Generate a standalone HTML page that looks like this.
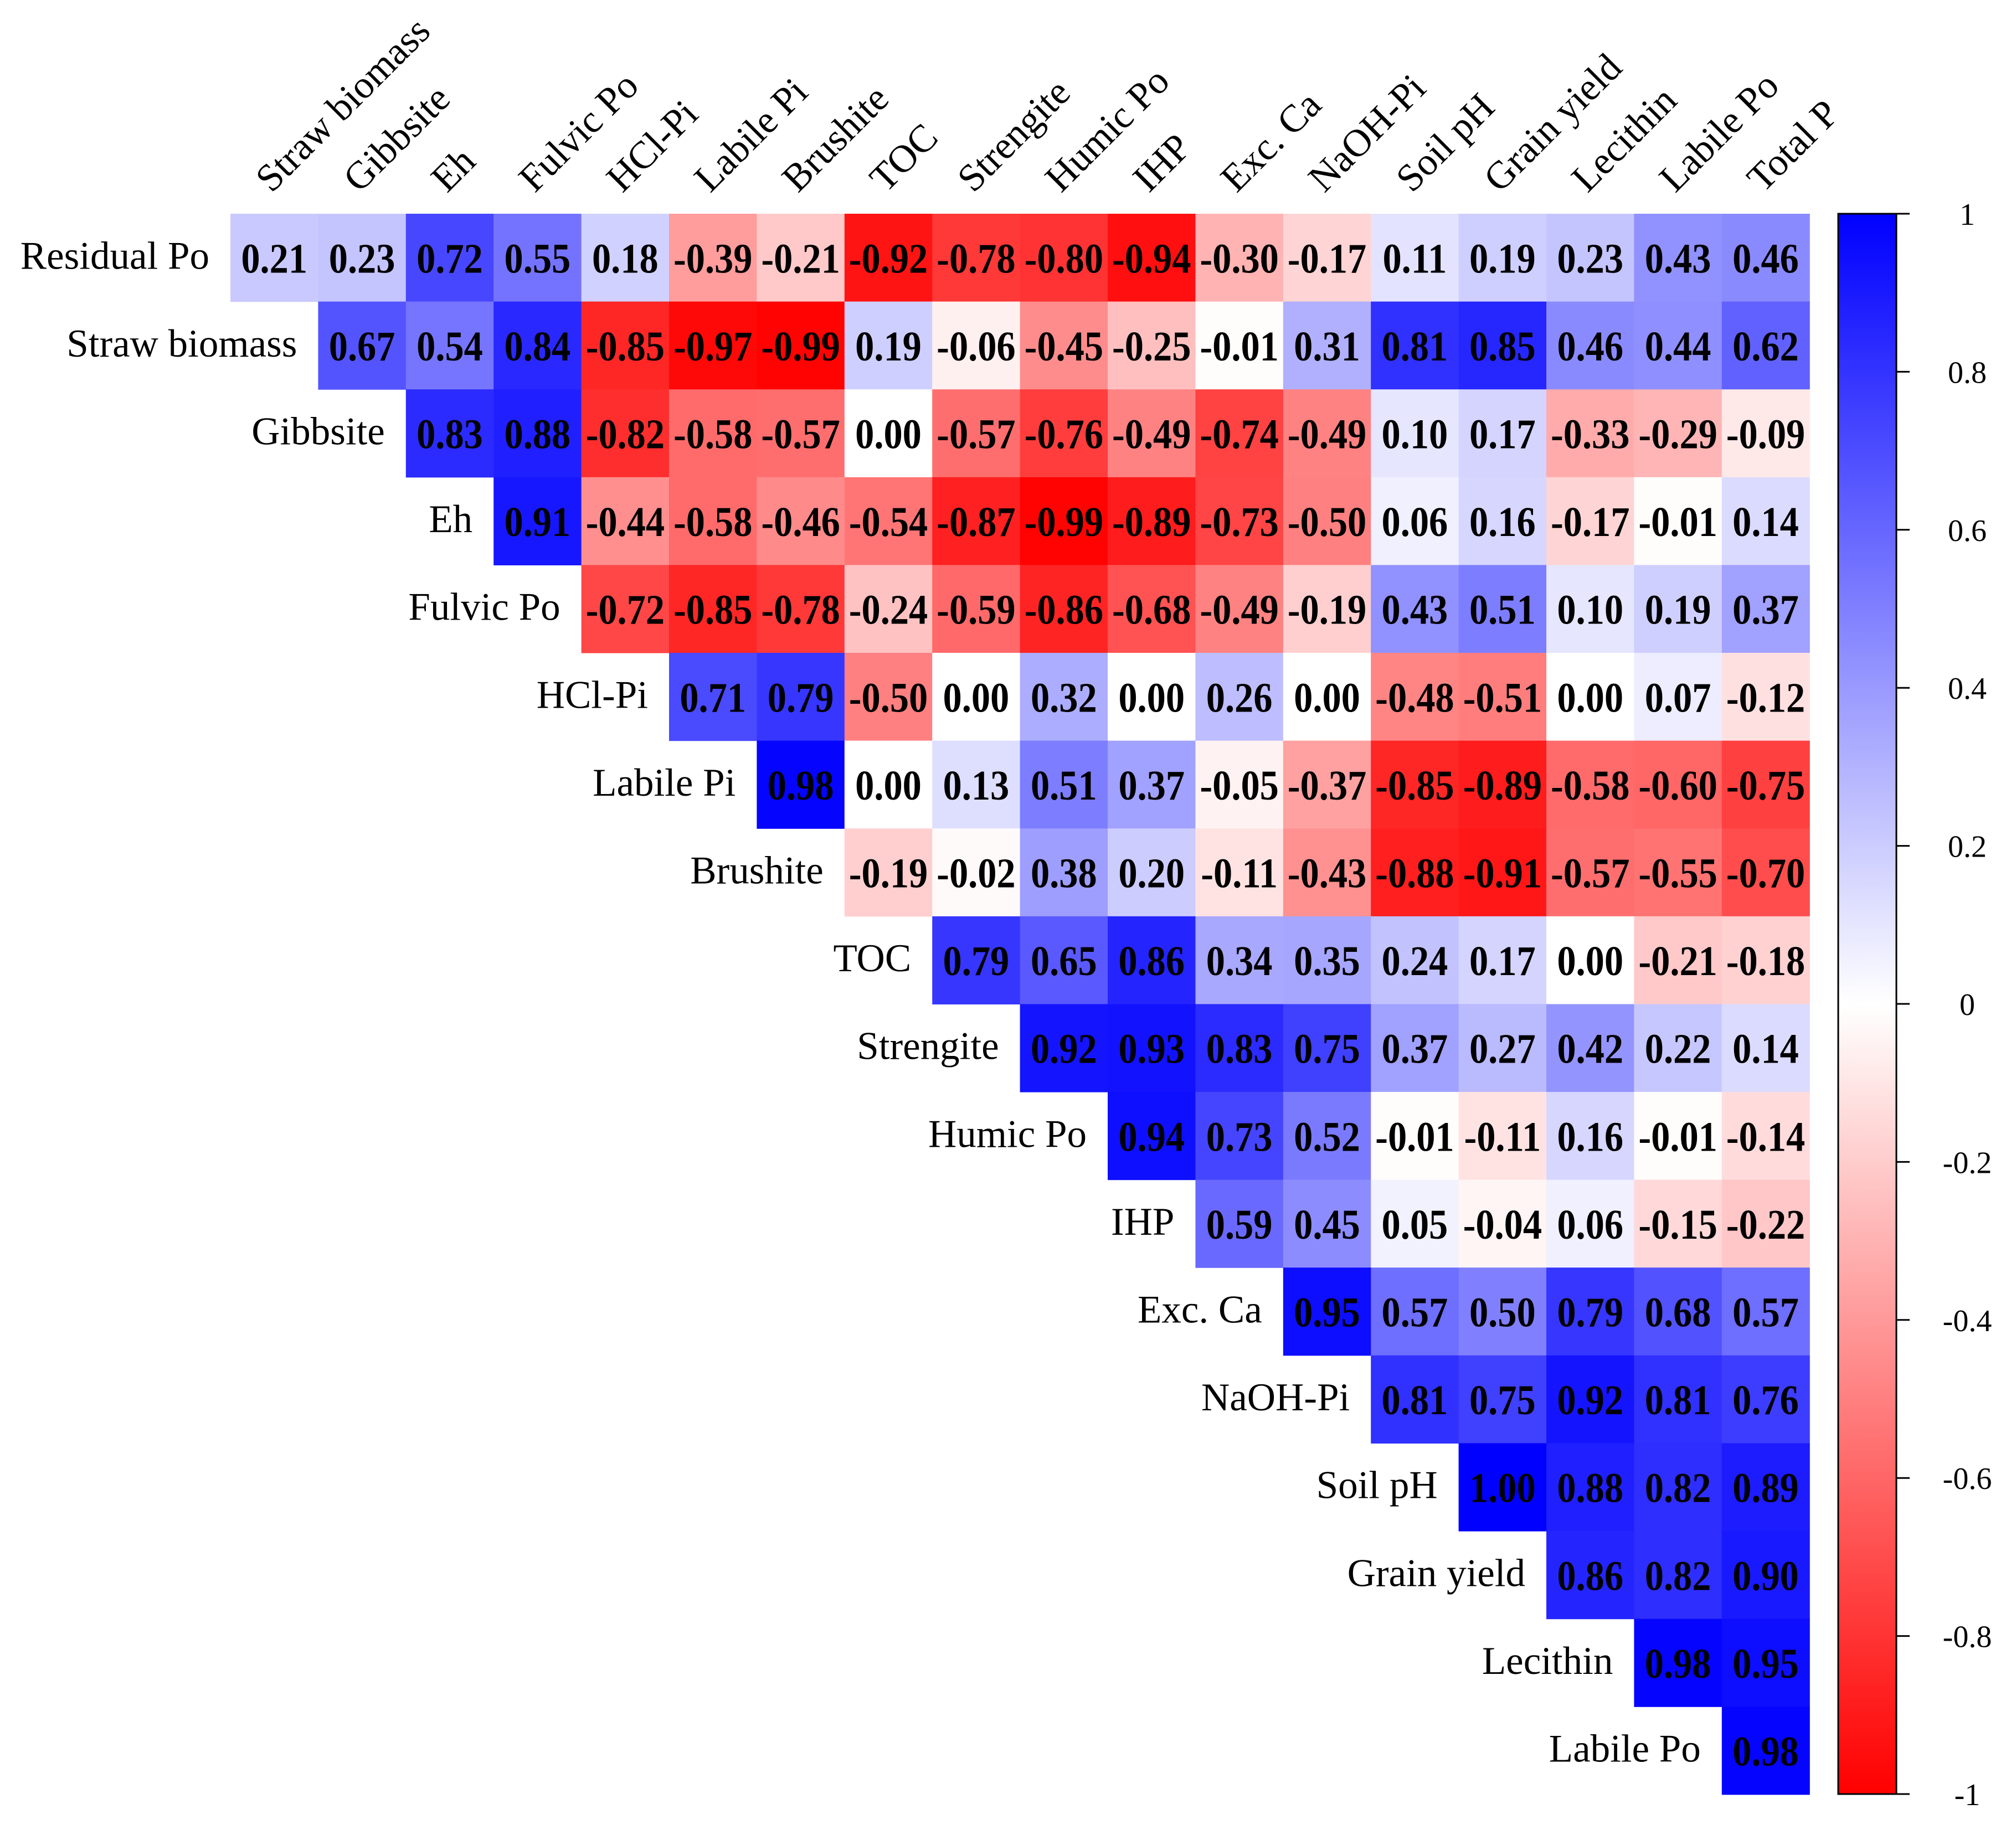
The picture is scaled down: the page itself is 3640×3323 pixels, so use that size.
<!DOCTYPE html>
<html><head><meta charset="utf-8"><style>
html,body{margin:0;padding:0;background:#fff;}
svg{display:block;font-family:"Liberation Serif",serif;}
</style></head><body>
<svg id="chart" width="3640" height="3323" viewBox="0 0 3640 3323" xmlns="http://www.w3.org/2000/svg">
<defs><linearGradient id="cbg" x1="0" y1="0" x2="0" y2="1">
<stop offset="0" stop-color="#0000ff"/><stop offset="0.5" stop-color="#ffffff"/><stop offset="1" stop-color="#ff0000"/></linearGradient></defs>
<g id="cells"></g>
<g id="rowlabels"></g>
<g id="collabels"></g>
<g id="colorbar"></g>
</svg>
<script>
const rowLabels = ["Residual Po","Straw biomass","Gibbsite","Eh","Fulvic Po","HCl-Pi","Labile Pi","Brushite","TOC","Strengite","Humic Po","IHP","Exc. Ca","NaOH-Pi","Soil pH","Grain yield","Lecithin","Labile Po"];
const colLabels = ["Straw biomass","Gibbsite","Eh","Fulvic Po","HCl-Pi","Labile Pi","Brushite","TOC","Strengite","Humic Po","IHP","Exc. Ca","NaOH-Pi","Soil pH","Grain yield","Lecithin","Labile Po","Total P"];
const values = [
[0.21,0.23,0.72,0.55,0.18,-0.39,-0.21,-0.92,-0.78,-0.80,-0.94,-0.30,-0.17,0.11,0.19,0.23,0.43,0.46],
[0.67,0.54,0.84,-0.85,-0.97,-0.99,0.19,-0.06,-0.45,-0.25,-0.01,0.31,0.81,0.85,0.46,0.44,0.62],
[0.83,0.88,-0.82,-0.58,-0.57,0.00,-0.57,-0.76,-0.49,-0.74,-0.49,0.10,0.17,-0.33,-0.29,-0.09],
[0.91,-0.44,-0.58,-0.46,-0.54,-0.87,-0.99,-0.89,-0.73,-0.50,0.06,0.16,-0.17,-0.01,0.14],
[-0.72,-0.85,-0.78,-0.24,-0.59,-0.86,-0.68,-0.49,-0.19,0.43,0.51,0.10,0.19,0.37],
[0.71,0.79,-0.50,0.00,0.32,0.00,0.26,0.00,-0.48,-0.51,0.00,0.07,-0.12],
[0.98,0.00,0.13,0.51,0.37,-0.05,-0.37,-0.85,-0.89,-0.58,-0.60,-0.75],
[-0.19,-0.02,0.38,0.20,-0.11,-0.43,-0.88,-0.91,-0.57,-0.55,-0.70],
[0.79,0.65,0.86,0.34,0.35,0.24,0.17,0.00,-0.21,-0.18],
[0.92,0.93,0.83,0.75,0.37,0.27,0.42,0.22,0.14],
[0.94,0.73,0.52,-0.01,-0.11,0.16,-0.01,-0.14],
[0.59,0.45,0.05,-0.04,0.06,-0.15,-0.22],
[0.95,0.57,0.50,0.79,0.68,0.57],
[0.81,0.75,0.92,0.81,0.76],
[1.00,0.88,0.82,0.89],
[0.86,0.82,0.90],
[0.98,0.95],
[0.98]
];
const cbTicks = [1,0.8,0.6,0.4,0.2,0,-0.2,-0.4,-0.6,-0.8,-1];
const cbTickLabels = ["1","0.8","0.6","0.4","0.2","0","-0.2","-0.4","-0.6","-0.8","-1"];

const NS="http://www.w3.org/2000/svg";
const X0=416, Y0=386, CW=158.4, CH=158.6;
function xPos(j){return X0+j*CW;}
function yPos(i){return Y0+i*CH;}
const CBX=3319, CBW=105, CBT=386, CBB=3240;
function cbY(v){return CBT+(1-v)/2*(CBB-CBT);}
function color(v){
  let r,g,b;
  if(v>=0){r=Math.round(255*(1-v));g=r;b=255;}
  else{r=255;g=Math.round(255*(1+v));b=g;}
  return `rgb(${r},${g},${b})`;
}
function mk(tag,attrs,parent){const e=document.createElementNS(NS,tag);for(const k in attrs)e.setAttribute(k,attrs[k]);parent.appendChild(e);return e;}
const cells=document.getElementById('cells');
values.forEach((row,i)=>{
  row.forEach((v,k)=>{
    const j=i+k;
    const r=mk('rect',{x:xPos(j),y:yPos(i),width:CW+0.6,height:CH+0.6,fill:color(v)},cells);
    
    
    const cx=xPos(j)+CW/2, cy=yPos(i)+CH/2+27;
    const t=mk('text',{x:0,y:0,transform:`translate(${cx} ${cy}) scale(0.9 1)`,'text-anchor':'middle','font-size':76,'font-weight':'bold',fill:'#000'},cells);
    t.textContent=v.toFixed(2);
    
    
  });
});
const rl=document.getElementById('rowlabels');
rowLabels.forEach((s,i)=>{
  const t=mk('text',{x:xPos(i)-38,y:yPos(i)+CH/2+20,'text-anchor':'end','font-size':71,fill:'#000'},rl);
  t.textContent=s;
  
  
});
const cl=document.getElementById('collabels');
colLabels.forEach((s,j)=>{
  const x=xPos(j)+CW/2-5, y=350;
  const t=mk('text',{x:x,y:y,'font-size':70,fill:'#000',transform:`rotate(-45 ${x} ${y})`},cl);
  t.textContent=s;
  
  
});
const cb=document.getElementById('colorbar');
const bar=mk('rect',{x:CBX,y:CBT,width:CBW,height:CBB-CBT,fill:'url(#cbg)',stroke:'#000','stroke-width':3},cb);


cbTicks.forEach((v,k)=>{
  const y=cbY(v);
  const l=mk('line',{x1:CBX+CBW,x2:CBX+CBW+24,y1:y,y2:y,stroke:'#000','stroke-width':3},cb);
  
  
  const t=mk('text',{x:3552,y:y+20,'text-anchor':'middle','font-size':56,fill:'#000'},cb);
  t.textContent=cbTickLabels[k];
  
  
});
</script>
</body></html>
